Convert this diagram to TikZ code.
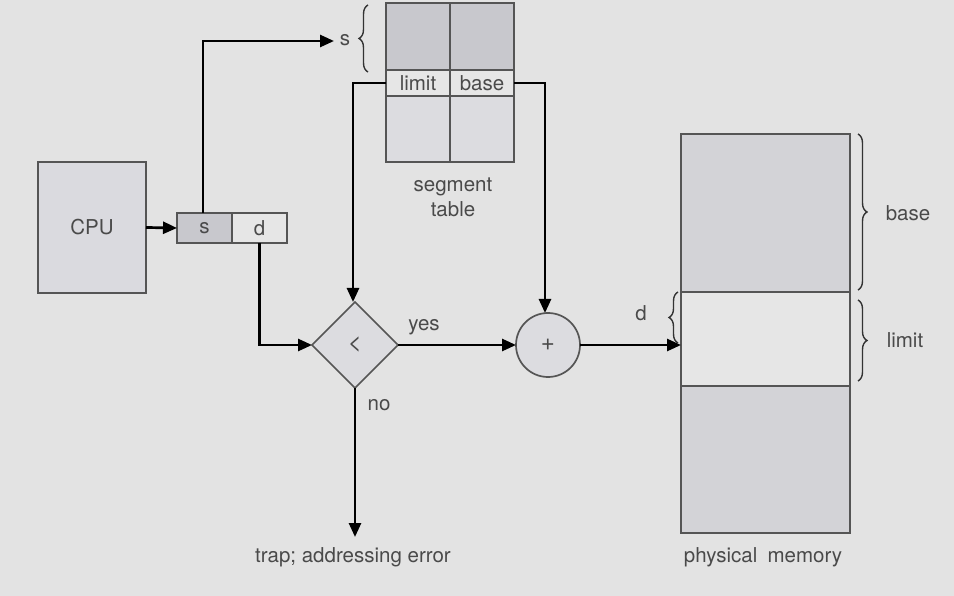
\documentclass[tikz,border=0pt]{standalone}
\usepackage{fontspec}
\setmainfont{TeX Gyre Heros}
\usetikzlibrary{shapes.geometric,arrows.meta,decorations.pathreplacing}
\definecolor{bg}{HTML}{E3E3E3}
\definecolor{cpufill}{HTML}{DADADF}
\definecolor{dark}{HTML}{C8C8CD}
\definecolor{light}{HTML}{E6E6E6}
\definecolor{mid}{HTML}{DCDCE0}
\definecolor{memdark}{HTML}{D3D3D7}
\definecolor{edge}{HTML}{555555}
\definecolor{txt}{HTML}{4A4A4A}
\tikzset{
  cell/.style={draw=edge, line width=1.7pt, inner sep=0pt, outer sep=0pt, text=txt},
  conn/.style={draw=black, line width=2.7pt, -{Triangle[length=14pt,width=12pt]}},
  lbl/.style={text=txt, inner sep=0pt},
  brc/.style={draw=black!80, line width=1.4pt, decorate, decoration={brace, amplitude=9pt}},
}
\begin{document}
\begin{tikzpicture}[x=1pt,y=-1pt,font=\fontsize{20.5}{25}\selectfont]
\fill[bg] (0,0) rectangle (954,596);
\useasboundingbox (0,0) rectangle (954,596);
% CPU
\node[cell, fill=cpufill, minimum width=108, minimum height=131] (cpu) at (92,227.5) {CPU};
% logical address register
\node[cell, fill=dark, minimum width=55, minimum height=30] (sreg) at (204.5,228) {s};
\node[cell, fill=light, minimum width=55, minimum height=30] (dreg) at (259.5,228) {d};
% segment table
\node[cell, fill=dark, minimum width=64, minimum height=67] (t1) at (418,36.5) {};
\node[cell, fill=dark, minimum width=64, minimum height=67] (t2) at (482,36.5) {};
\node[cell, fill=light, minimum width=64, minimum height=26] (lim) at (418,83) {limit};
\node[cell, fill=light, minimum width=64, minimum height=26] (bas) at (482,83) {base};
\node[cell, fill=mid, minimum width=64, minimum height=66] (b1) at (418,129) {};
\node[cell, fill=mid, minimum width=64, minimum height=66] (b2) at (482,129) {};
\node[lbl, align=center] (segt) at (453,197) {segment\\table};
% physical memory
\node[cell, fill=memdark, minimum width=169, minimum height=158] (m1) at (765.5,213) {};
\node[cell, fill=light, minimum width=169, minimum height=94] (m2) at (765.5,339) {};
\node[cell, fill=memdark, minimum width=169, minimum height=147] (m3) at (765.5,459.5) {};
\node[lbl] (pm) at (763,557) {physical\enspace memory};
% comparator and adder
\node[cell, fill=mid, shape=diamond, minimum width=86, minimum height=86, font=\fontsize{24}{28}\selectfont] (cmp) at (355,345) {<};
\node[cell, fill=mid, shape=circle, minimum size=64, font=\fontsize{24}{28}\selectfont] (add) at (548,345) {+};
% labels
\node[lbl] (slbl) at (345,40) {s};
\node[lbl] (yes) at (424,327) {yes};
\node[lbl] (no) at (379,405) {no};
\node[lbl] (trap) at (353,557) {trap; addressing error};
\node[lbl] (dlbl) at (641,313) {d};
\node[lbl] (baselbl) at (908,213) {base};
\node[lbl] (limlbl) at (905,340) {limit};
\coordinate (sarrow) at (334,41);
\coordinate (trapend) at (355,537);
% connectors
\draw[conn] (cpu.east) -- (sreg.west);
\draw[conn] ([xshift=-1.5pt]sreg.north) |- (sarrow);
\draw[conn] (lim.west) -| ([xshift=-2pt]cmp.north);
\draw[conn] (bas.east) -| ([xshift=-3pt]add.north);
\draw[conn] (dreg.south) |- (cmp.west);
\draw[conn] (cmp.east) -- (add.west);
\draw[conn] (add.east) -- (add.east -| m2.west);
\draw[conn] (cmp.south) -- (trapend);
% braces
\draw[brc] (368,72) -- (368,5);
\draw[brc] (678,343) -- (678,292);
\draw[brc] (858,134) -- (858,290);
\draw[brc] (858,300) -- (858,381);
\end{tikzpicture}
\end{document}
